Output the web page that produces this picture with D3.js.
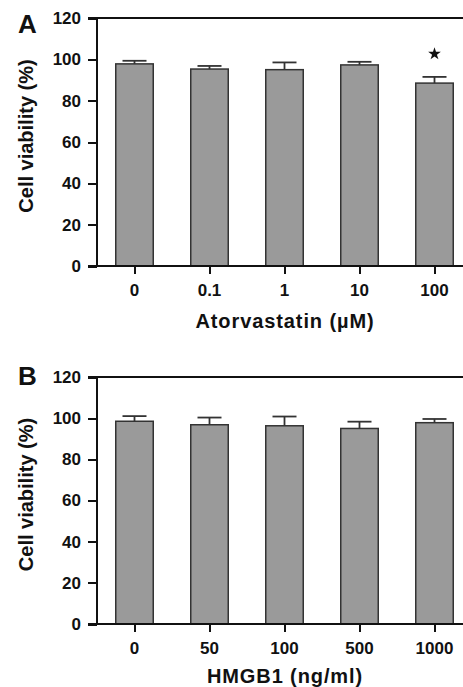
<!DOCTYPE html>
<head>
  <meta charset="utf-8">
  <script src="https://d3js.org/d3.v7.min.js"></script>
  <style>
    body { margin:0; background:#fff; }
    text { font-family: "Liberation Sans", Arial, sans-serif; font-weight: bold; fill: #111; }
    .axis path, .axis line { fill: none; stroke: #111; stroke-width: 2px; shape-rendering: crispEdges; }
    .axis text { font-size: 17px; }
    .title { font-size: 20px; letter-spacing: 0.9px; }
    .ytitle { font-size: 20px; }
    .panel { font-size: 26px; }
  </style>
</head>
<body>
  <script>
    const atorvaDoses = ["0", "0.1", "1", "10", "100"];
    const atorvaMeans = [97.8, 95.3, 95.0, 97.3, 88.5];
    const atorvaErr   = [1.5, 1.5, 3.5, 1.5, 3.0];
    const atorvaSig   = [false, false, false, false, true];

    const hmgbDoses = ["0", "50", "100", "500", "1000"];
    const hmgbMeans = [98.5, 96.8, 96.3, 95.0, 97.8];
    const hmgbErr   = [2.5, 3.5, 4.5, 3.3, 1.8];
    const hmgbSig   = [false, false, false, false, false];

    const yTicks = [0, 20, 40, 60, 80, 100, 120];

    const width = 463, height = 687;
    const barFill = "#9a9a9a", edge = "#333333";

    const svg = d3.select("body").append("svg")
        .attr("width", width)
        .attr("height", height);

    function drawPanel(opts) {
        const dataset = opts.doses.map((d, i) => ({
            name: d, value: opts.means[i], err: opts.err[i], sig: opts.sig[i]
        }));
        const x = d3.scaleBand().domain(opts.doses)
            .range([97, 472]).paddingInner(0.5).paddingOuter(0.25);
        const y = d3.scaleLinear().domain([0, 120]).range([opts.bottom, opts.top]);

        const g = svg.append("g");

        // frame line across the top
        g.append("line")
            .attr("x1", 88).attr("x2", width)
            .attr("y1", y(120)).attr("y2", y(120))
            .attr("stroke", "#111").attr("stroke-width", 2)
            .attr("shape-rendering", "crispEdges");

        g.selectAll(".bar")
            .data(dataset)
            .enter().append("rect")
            .attr("class", "bar")
            .attr("x", d => x(d.name))
            .attr("width", x.bandwidth())
            .attr("y", d => y(d.value))
            .attr("height", d => y(0) - y(d.value))
            .attr("fill", barFill)
            .attr("stroke", edge)
            .attr("stroke-width", 1.5);

        const eb = g.selectAll(".err")
            .data(dataset)
            .enter().append("g")
            .attr("class", "err")
            .attr("stroke", edge)
            .attr("stroke-width", 1.8);
        eb.append("line")
            .attr("x1", d => x(d.name) + x.bandwidth() / 2)
            .attr("x2", d => x(d.name) + x.bandwidth() / 2)
            .attr("y1", d => y(d.value))
            .attr("y2", d => y(d.value + d.err));
        eb.append("line")
            .attr("x1", d => x(d.name) + x.bandwidth() / 2 - 12)
            .attr("x2", d => x(d.name) + x.bandwidth() / 2 + 12)
            .attr("y1", d => y(d.value + d.err))
            .attr("y2", d => y(d.value + d.err));

        g.selectAll(".star")
            .data(dataset.filter(d => d.sig))
            .enter().append("path")
            .attr("class", "star")
            .attr("d", d3.symbol().type(d3.symbolStar).size(50))
            .attr("fill", "#111")
            .attr("transform", d => "translate(" + (x(d.name) + x.bandwidth() / 2) + "," + (y(d.value + d.err) - 23) + ")");

        g.append("g")
            .attr("class", "axis")
            .attr("transform", "translate(97,0)")
            .call(d3.axisLeft(y).tickValues(yTicks).tickSize(9).tickPadding(7).tickSizeOuter(0))
            .call(a => a.select(".domain").attr("d", "M0," + y(120) + "V" + y(0)));

        g.append("g")
            .attr("class", "axis")
            .attr("transform", "translate(0," + y(0) + ")")
            .call(d3.axisBottom(x).tickSize(8).tickPadding(10).tickSizeOuter(0))
            .call(a => a.select(".domain").attr("d", "M88,0H" + width));

        g.append("text")
            .attr("class", "title")
            .attr("x", 285)
            .attr("y", y(0) + opts.titleGap)
            .attr("text-anchor", "middle")
            .text(opts.xTitle);

        g.append("text")
            .attr("class", "ytitle")
            .attr("transform", "translate(33," + (y(60) - 6) + ") rotate(-90)")
            .attr("text-anchor", "middle")
            .text("Cell viability (%)");

        g.append("text")
            .attr("class", "panel")
            .attr("x", 18)
            .attr("y", y(120) + opts.labelDy)
            .text(opts.label);
    }

    drawPanel({ label: "A", labelDy: 15, doses: atorvaDoses, means: atorvaMeans, err: atorvaErr, sig: atorvaSig,
                top: 18, bottom: 266, titleGap: 62, xTitle: "Atorvastatin (\u00b5M)" });
    drawPanel({ label: "B", labelDy: 8, doses: hmgbDoses, means: hmgbMeans, err: hmgbErr, sig: hmgbSig,
                top: 377, bottom: 624, titleGap: 59, xTitle: "HMGB1 (ng/ml)" });
  </script>
</body>
